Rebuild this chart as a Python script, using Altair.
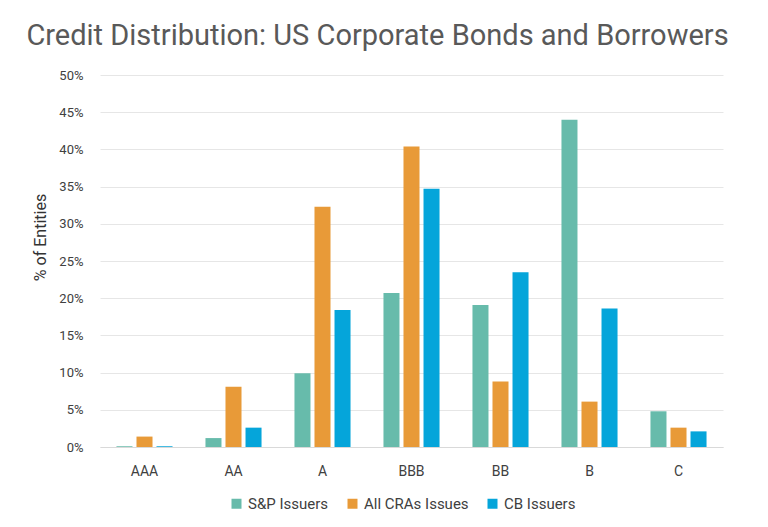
import altair as alt
import pandas as pd

ratings = ["AAA", "AA", "A", "BBB", "BB", "B", "C"]
series = ["S&P Issuers", "All CRAs Issues", "CB Issuers"]
sp_issuers = [0.1, 1.2, 9.9, 20.7, 19.1, 44.0, 4.8]
all_cras = [1.4, 8.1, 32.3, 40.4, 8.8, 6.1, 2.6]
cb_issuers = [0.1, 2.6, 18.4, 34.7, 23.5, 18.6, 2.1]
colors = ["#67BBAB", "#E89A38", "#05A5DA"]

rows = []
for s, vals in zip(series, [sp_issuers, all_cras, cb_issuers]):
    for r, v in zip(ratings, vals):
        rows.append({"rating": r, "series": s, "value": v})
df = pd.DataFrame(rows)

FONT = "Roboto"

chart = alt.Chart(df).mark_bar().encode(
    x=alt.X("rating:N", sort=ratings,
            scale=alt.Scale(paddingInner=0.37, paddingOuter=0.185),
            axis=alt.Axis(title=None, labelAngle=0, ticks=False, domainColor="#d9d9d9",
                          labelFontSize=14, labelColor="#404040", labelPadding=17,
                          labelFont=FONT, grid=False)),
    xOffset=alt.XOffset("series:N", sort=series,
                        scale=alt.Scale(paddingInner=0.2, paddingOuter=0)),
    y=alt.Y("value:Q", scale=alt.Scale(domain=[0, 50], nice=False),
            axis=alt.Axis(title="% of Entities", values=list(range(0, 51, 5)),
                          labelExpr="datum.value + '%'", domain=False, ticks=False,
                          gridColor="#e6e6e6", labelFontSize=13, labelColor="#404040",
                          labelFont=FONT, labelPadding=17, titleFont=FONT,
                          titleFontSize=16, titleFontWeight="normal", titleColor="#333333",
                          titleX=-52, titleY=162, titleAlign="center")),
    color=alt.Color("series:N", sort=series,
                    scale=alt.Scale(domain=series, range=colors),
                    legend=alt.Legend(title=None, orient="none", direction="horizontal",
                                      legendX=129, legendY=421, symbolType="square",
                                      symbolSize=100, symbolStrokeWidth=0,
                                      labelFontSize=15, labelColor="#404040", labelFont=FONT,
                                      columnPadding=16, symbolOffset=0)),
).properties(
    width=623,
    height=372,
    autosize=alt.AutoSizeParams(type="none"),
    padding={"left": 92, "top": 67, "right": 37, "bottom": 72},
    title=alt.TitleParams("Credit Distribution: US Corporate Bonds and Borrowers",
                          font=FONT, fontSize=29, fontWeight="normal", color="#595959",
                          anchor="middle", offset=18, frame="bounds"),
).configure_view(stroke=None)

chart.save("out.html", embed_options={"renderer": "svg", "actions": False})
